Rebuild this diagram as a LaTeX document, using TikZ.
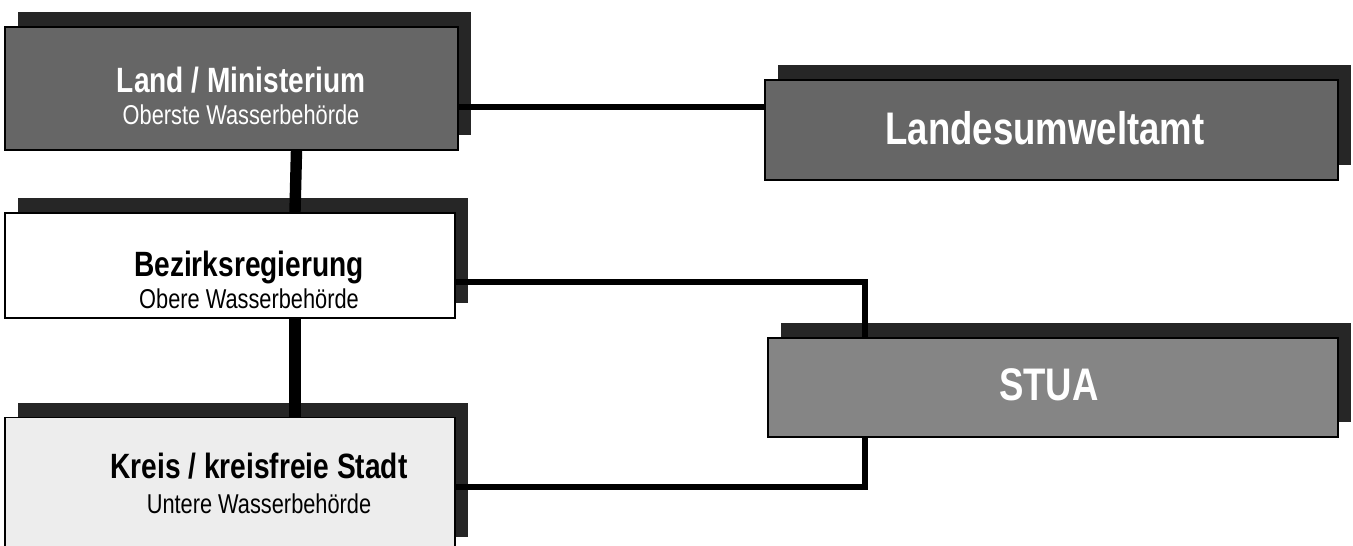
\documentclass[tikz,border=0pt]{standalone}
\usepackage{fontspec}
\setmainfont{Liberation Sans}
\newfontfamily\narrowsans[FakeStretch=0.8]{Liberation Sans}
\usetikzlibrary{shadows,calc}

\newcommand{\boxtitle}[1]{{\narrowsans\bfseries\fontsize{20}{24}\selectfont #1}}
\newcommand{\boxsub}[1]{{\narrowsans\fontsize{15.5}{18}\selectfont #1}}

\begin{document}
\begin{tikzpicture}[
    x=0.02cm, y=-0.02cm,
    box/.style={draw, line width=0.9pt, inner sep=0pt,
      drop shadow={shadow xshift=0.26cm, shadow yshift=0.3cm, fill=black!85, opacity=1}},
    label/.style={align=center, inner sep=0pt, font=\fontsize{15}{15.8}\selectfont},
    sidelabel/.style={align=center, inner sep=0pt, text=white, font=\narrowsans\bfseries\fontsize{26}{30}\selectfont},
    vline/.style={line width=6.5pt},
    hline/.style={line width=3.4pt}
  ]
    \useasboundingbox (0,0) rectangle (1353,545);

    % boxes
    \node[box, fill=black!60, minimum width=9.06cm, minimum height=2.46cm] (land) at (231.5,88.5) {};
    \node[box, fill=black!60, minimum width=11.46cm, minimum height=2cm] (lua) at (1051.5,130) {};
    \node[box, fill=white, minimum width=9cm, minimum height=2.1cm] (bezirk) at (230,265.5) {};
    \node[box, fill=black!48, minimum width=11.4cm, minimum height=1.98cm] (stua) at (1053,387.5) {};
    \node[box, fill=black!7, minimum width=9cm, minimum height=2.7cm] (kreis) at (230,485) {};

    % texts
    \node[label, text=white] (landtext) at (241,96)
      {\boxtitle{Land / Ministerium}\\[2pt]\boxsub{Oberste Wasserbehörde}};
    \node[sidelabel] (luatext) at (1045,128) {Landesumweltamt};
    \node[label] (bezirktext) at (249,280)
      {\boxtitle{Bezirksregierung}\\[2pt]\boxsub{Obere Wasserbehörde}};
    \node[sidelabel] (stuatext) at (1049,385) {STUA};
    \node[label] (kreistext) at (259,483)
      {\boxtitle{Kreis / kreisfreie Stadt}\\[4pt]\boxsub{Untere Wasserbehörde}};

    % connectors
    \draw[vline] ([xshift=1.3cm]land.south) -- ([xshift=1.3cm]bezirk.north);
    \draw[vline] ([xshift=1.3cm]bezirk.south) -- ([xshift=1.3cm]kreis.north);
    \draw[hline] ([yshift=-0.37cm]land.east) -- ([yshift=-0.37cm]land.east -| lua.west);
    \draw[hline] ([yshift=-0.33cm]bezirk.east) -| ([xshift=-3.76cm]stua.north);
    \draw[hline] ([yshift=-0.04cm]kreis.east) -| ([xshift=-3.76cm]stua.south);
\end{tikzpicture}
\end{document}
